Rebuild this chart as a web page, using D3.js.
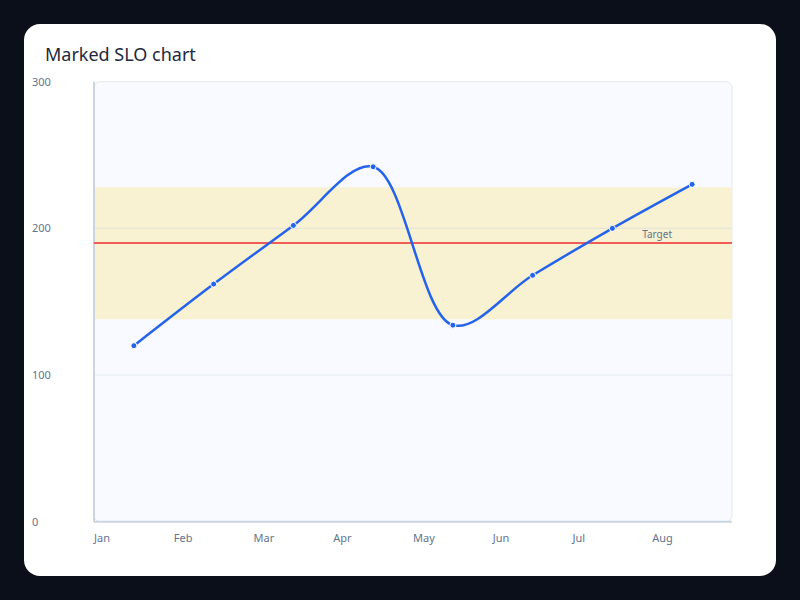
<!DOCTYPE html>
<html>
<head>
<meta charset="utf-8">
<script src="https://cdn.jsdelivr.net/npm/d3@7"></script>
<style>
  html, body { margin: 0; padding: 0; background: #0b0f19; }
  svg { display: block; font-family: "Noto Sans", "Open Sans", sans-serif; }
</style>
</head>
<body>
<script>
var months = ["Jan", "Feb", "Mar", "Apr", "May", "Jun", "Jul", "Aug"];
var values = [120, 162, 202, 242, 134, 168, 200, 230];
var yTicks = [0, 100, 200, 300];
var target = 190;
var bandLow = 138,
    bandHigh = 228;

var width = 800,
    height = 600;

var margin = {top: 81.7, right: 68, bottom: 78.3, left: 94};

var svg = d3.select("body").append("svg")
    .attr("width", width)
    .attr("height", height);

// card
svg.append("rect")
    .attr("x", 24)
    .attr("y", 24)
    .attr("width", 752)
    .attr("height", 552)
    .attr("rx", 16)
    .attr("fill", "#ffffff");

svg.append("text")
    .attr("x", 45)
    .attr("y", 61)
    .attr("font-size", 18)
    .attr("fill", "#1e293b")
    .text("Marked SLO chart");

var x = d3.scaleBand()
    .domain(months)
    .range([margin.left, width - margin.right]);

var y = d3.scaleLinear()
    .domain([0, 300])
    .range([height - margin.bottom, margin.top]);

var plotW = width - margin.right - margin.left,
    plotH = height - margin.bottom - margin.top;

// plot background
svg.append("rect")
    .attr("x", margin.left)
    .attr("y", margin.top)
    .attr("width", plotW)
    .attr("height", plotH)
    .attr("rx", 6)
    .attr("fill", "#f8faff")
    .attr("stroke", "#e2e8f0");

// SLO band
svg.append("rect")
    .attr("x", margin.left)
    .attr("y", y(bandHigh))
    .attr("width", plotW)
    .attr("height", y(bandLow) - y(bandHigh))
    .attr("fill", "#f8f1d2");

// grid
svg.append("g").selectAll(".grid")
    .data(yTicks.filter(function(d) { return d > 0 && d < 300; }))
  .enter().append("line")
    .attr("class", "grid")
    .attr("x1", margin.left)
    .attr("x2", width - margin.right)
    .attr("y1", function(d) { return y(d); })
    .attr("y2", function(d) { return y(d); })
    .attr("stroke", "#cbd5e1")
    .attr("stroke-opacity", 0.45);

// axes lines
svg.append("line")
    .attr("x1", margin.left)
    .attr("x2", margin.left)
    .attr("y1", margin.top)
    .attr("y2", height - margin.bottom)
    .attr("stroke", "#cbd5e1")
    .attr("stroke-width", 2);

svg.append("line")
    .attr("x1", margin.left)
    .attr("x2", width - margin.right)
    .attr("y1", height - margin.bottom)
    .attr("y2", height - margin.bottom)
    .attr("stroke", "#cbd5e1")
    .attr("stroke-width", 2);

// tick labels
svg.append("g").selectAll(".ylab")
    .data(yTicks)
  .enter().append("text")
    .attr("class", "ylab")
    .attr("x", 32)
    .attr("y", function(d) { return y(d); })
    .attr("dy", "0.35em")
    .attr("font-size", 11)
    .attr("fill", "#64748b")
    .text(function(d) { return d; });

svg.append("g").selectAll(".xlab")
    .data(months)
  .enter().append("text")
    .attr("class", "xlab")
    .attr("x", function(d) { return x(d); })
    .attr("y", 538)
    .attr("dy", "0.35em")
    .attr("font-size", 11)
    .attr("fill", "#64748b")
    .text(function(d) { return d; });

// target line
svg.append("line")
    .attr("x1", margin.left)
    .attr("x2", width - margin.right)
    .attr("y1", y(target))
    .attr("y2", y(target))
    .attr("stroke", "#ef2b2b")
    .attr("stroke-width", 1.5);

svg.append("text")
    .attr("x", 672)
    .attr("y", y(target) - 5.5)
    .attr("text-anchor", "end")
    .attr("font-size", 10)
    .attr("fill", "#64748b")
    .text("Target");

// series
var line = d3.line()
    .x(function(d, i) { return x(months[i]) + x.bandwidth() / 2; })
    .y(function(d) { return y(d); })
    .curve(d3.curveCatmullRom);

svg.append("path")
    .datum(values)
    .attr("d", line)
    .attr("fill", "none")
    .attr("stroke", "#2563eb")
    .attr("stroke-width", 2.5);

svg.append("g").selectAll(".dot")
    .data(values)
  .enter().append("circle")
    .attr("class", "dot")
    .attr("cx", function(d, i) { return x(months[i]) + x.bandwidth() / 2; })
    .attr("cy", function(d) { return y(d); })
    .attr("r", 3)
    .attr("fill", "#2563eb")
    .attr("stroke", "#ffffff")
    .attr("stroke-width", 1);
</script>
</body>
</html>
